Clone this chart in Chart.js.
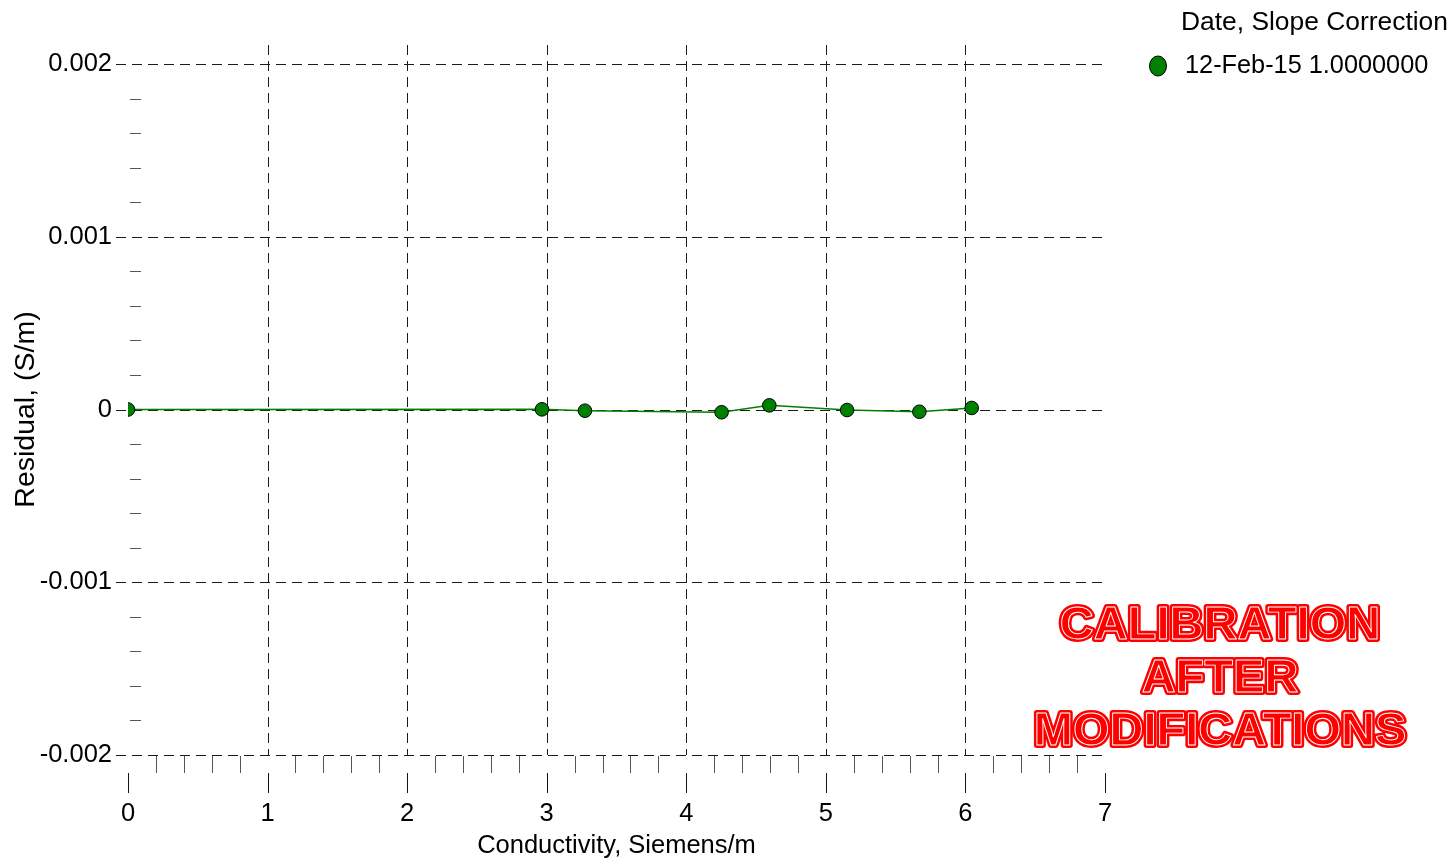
<!DOCTYPE html>
<html>
<head>
<meta charset="utf-8">
<title>Conductivity residuals</title>
<script src="https://cdn.jsdelivr.net/npm/chart.js@4.4.1/dist/chart.umd.min.js"></script>
<style>
  html, body { margin: 0; padding: 0; background: #ffffff; }
  canvas { display: block; }
</style>
</head>
<body>
<canvas id="residuals" width="1453" height="859"></canvas>
<script>
// Calibration residuals by conductivity
const conductivity = [0, 2.966, 3.274, 4.253, 4.595, 5.152, 5.670, 6.045];
const residual = [0, 0.000001, -0.000007, -0.000016, 0.000024, -0.000003, -0.000013, 0.000009];

const xTickValues = [0, 1, 2, 3, 4, 5, 6, 7];
const xTickLabels = ['0', '1', '2', '3', '4', '5', '6', '7'];
const yTickValues = [-0.002, -0.001, 0, 0.001, 0.002];
const yTickLabels = ['-0.002', '-0.001', '0', '0.001', '0.002'];

const seriesLabel = '12-Feb-15 1.0000000';
const legendTitle = 'Date, Slope Correction';
const stampLines = ['CALIBRATION', 'AFTER', 'MODIFICATIONS'];

const SANS = '"Liberation Sans", Arial, sans-serif';
const GREEN = '#008000';

// Dashed grid, offset tick marks and minor ticks, all placed through the scales
const framePlugin = {
  id: 'residualFrame',
  beforeDatasetsDraw(chart) {
    const { ctx, chartArea: a, scales: { x, y } } = chart;
    ctx.save();
    ctx.lineWidth = 1;
    ctx.strokeStyle = '#1a1a1a';
    ctx.setLineDash([10, 6]);
    // horizontal grid lines at the major y ticks
    yTickValues.forEach(v => {
      const py = Math.round(y.getPixelForValue(v)) + 0.5;
      ctx.beginPath();
      ctx.moveTo(a.left - 12, py);
      ctx.lineTo(a.right, py);
      ctx.stroke();
    });
    // vertical grid lines at inner x ticks
    xTickValues.slice(1, -1).forEach(v => {
      const px = Math.round(x.getPixelForValue(v)) + 0.5;
      ctx.beginPath();
      ctx.moveTo(px, a.top - 19);
      ctx.lineTo(px, a.bottom);
      ctx.stroke();
    });
    ctx.setLineDash([]);
    // major x ticks hanging below the minor row
    ctx.strokeStyle = '#111';
    xTickValues.forEach(v => {
      const px = Math.round(x.getPixelForValue(v)) + 0.5;
      ctx.beginPath();
      ctx.moveTo(px, a.bottom + 18);
      ctx.lineTo(px, a.bottom + 38);
      ctx.stroke();
    });
    // minor ticks: 0.2 on x, 0.0002 on y
    ctx.strokeStyle = '#555';
    for (let i = 0; i < 35; i++) {
      if (i % 5 === 0) continue;
      const px = Math.round(x.getPixelForValue(i * 0.2)) + 0.5;
      ctx.beginPath();
      ctx.moveTo(px, a.bottom + 1);
      ctx.lineTo(px, a.bottom + 18);
      ctx.stroke();
    }
    for (let i = -10; i <= 10; i++) {
      if (i % 5 === 0) continue;
      const py = Math.round(y.getPixelForValue(i * 0.0002)) + 0.5;
      ctx.beginPath();
      ctx.moveTo(a.left + 2, py);
      ctx.lineTo(a.left + 13, py);
      ctx.stroke();
    }
    ctx.restore();
  },
  afterDraw(chart) {
    const { ctx } = chart;
    const ds = chart.data.datasets[0];
    ctx.save();
    // legend
    ctx.fillStyle = '#000';
    ctx.textBaseline = 'middle';
    ctx.textAlign = 'left';
    ctx.font = '26.4px ' + SANS;
    ctx.fillText(legendTitle, 1181, 23);
    ctx.font = '25.3px ' + SANS;
    ctx.fillText(ds.label, 1185, 66);
    ctx.beginPath();
    ctx.ellipse(1158, 66, 8.5, 10, 0, 0, Math.PI * 2);
    ctx.fillStyle = ds.pointBackgroundColor;
    ctx.fill();
    ctx.lineWidth = 1;
    ctx.strokeStyle = '#000';
    ctx.stroke();
    // outlined red stamp
    ctx.font = 'bold 47px ' + SANS;
    ctx.textAlign = 'center';
    ctx.textBaseline = 'middle';
    ctx.lineJoin = 'round';
    stampLines.forEach((t, i) => {
      const cy = 626 + i * 53;
      ctx.lineWidth = 6;
      ctx.strokeStyle = '#ff0000';
      ctx.strokeText(t, 1220, cy);
      ctx.fillStyle = '#ff0000';
      ctx.fillText(t, 1220, cy);
      ctx.lineWidth = 0.9;
      ctx.strokeStyle = '#ffffff';
      ctx.strokeText(t, 1220, cy);
    });
    ctx.restore();
  }
};

new Chart(document.getElementById('residuals'), {
  type: 'scatter',
  data: {
    datasets: [{
      label: seriesLabel,
      data: conductivity.map((c, i) => ({ x: c, y: residual[i] })),
      showLine: true,
      borderColor: GREEN,
      borderWidth: 1.5,
      pointBackgroundColor: GREEN,
      pointBorderColor: '#000',
      pointBorderWidth: 1,
      pointRadius: 6.8,
      pointHoverRadius: 6.8
    }]
  },
  options: {
    responsive: false,
    animation: false,
    events: [],
    layout: { padding: { left: 0, right: 348, top: 64, bottom: 0 } },
    plugins: {
      legend: { display: false },
      tooltip: { enabled: false }
    },
    scales: {
      x: {
        type: 'linear',
        min: 0,
        max: 7,
        afterBuildTicks: s => { s.ticks = xTickValues.map(v => ({ value: v })); },
        afterFit: s => { s.height = 104; },
        grid: { display: false, drawTicks: false },
        border: { display: false },
        ticks: {
          padding: 44,
          color: '#000',
          font: { family: SANS, size: 25.5 },
          maxRotation: 0,
          callback: (v, i) => xTickLabels[i]
        },
        title: {
          display: true,
          text: 'Conductivity, Siemens/m',
          color: '#000',
          font: { family: SANS, size: 25.5 },
          padding: { top: -2, bottom: -2 }
        }
      },
      y: {
        type: 'linear',
        min: -0.002,
        max: 0.002,
        afterBuildTicks: s => { s.ticks = yTickValues.map(v => ({ value: v })); },
        afterFit: s => { s.width = 128; },
        grid: { display: false, drawTicks: false },
        border: { display: false },
        ticks: {
          padding: 16,
          color: '#000',
          font: { family: SANS, size: 25.5 },
          callback: (v, i) => yTickLabels[i]
        },
        title: {
          display: true,
          text: 'Residual, (S/m)',
          color: '#000',
          font: { family: SANS, size: 28.5 },
          padding: { top: 9, bottom: 0 }
        }
      }
    }
  },
  plugins: [framePlugin]
});
</script>
</body>
</html>
